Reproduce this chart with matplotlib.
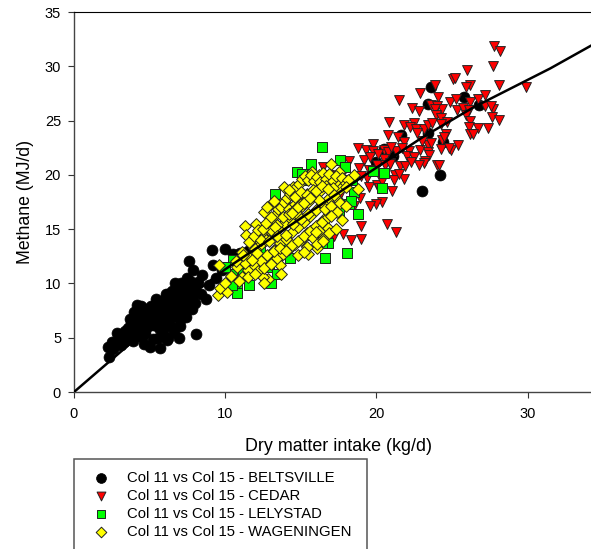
import matplotlib
matplotlib.use('Agg')
import matplotlib.pyplot as plt
from matplotlib.patches import Rectangle

plt.rcParams['font.family'] = ['Liberation Sans', 'DejaVu Sans']

belts_x = [2.3, 2.27, 2.5, 2.85, 4.2, 4.0, 5.4, 6.1, 6.7, 7.5, 7.9, 7.6, 8.5, 9.1, 9.2, 8.9, 8.7, 8.1, 7.0, 6.95,
           5.7, 5.0, 6.15, 4.5, 5.55, 2.6, 2.9, 3.0, 3.2, 3.3, 3.4, 3.5, 3.6, 3.7, 3.8, 3.9, 4.0, 4.1, 4.2, 4.3,
           4.4, 4.5, 4.6, 4.7, 4.8, 4.9, 5.0, 5.1, 5.2, 5.3, 5.4, 5.5, 5.6, 5.7, 5.8, 5.9, 6.0, 6.1, 6.2, 6.3,
           6.4, 6.5, 6.6, 6.7, 6.8, 6.9, 7.0, 7.1, 7.2, 7.3, 7.4, 7.5, 7.6, 7.7, 7.8, 3.1, 3.5, 3.9, 4.3, 4.7,
           5.1, 5.5, 5.9, 6.3, 6.7, 7.1, 7.5, 4.6, 5.2, 5.8, 6.4, 7.0, 7.6, 10.0, 10.5, 11.0, 11.5, 12.4, 13.0, 9.4,
           8.0, 8.2, 8.4, 8.0, 7.8, 7.4, 6.6, 6.2, 3.7, 4.4, 9.8, 10.7, 11.9,
           23.6, 23.4, 25.8, 26.8, 23.4, 21.6, 24.4, 20.5, 21.1, 20.0, 23.0, 24.2]
belts_y = [3.25, 4.1, 4.6, 5.4, 8.0, 7.4, 8.6, 9.0, 10.0, 10.5, 11.2, 12.1, 10.8, 13.1, 11.7, 9.9, 8.6, 5.3, 6.1, 5.0,
           4.05, 4.1, 4.8, 5.1, 5.0, 4.0, 4.4, 5.0, 5.3, 4.6, 5.6, 4.9, 5.9, 5.2, 6.3, 5.5, 6.8, 5.7, 6.5, 7.2,
           6.0, 7.0, 6.4, 7.6, 6.0, 7.1, 6.6, 7.9, 6.2, 7.4, 6.8, 8.2, 5.9, 7.0, 7.7, 6.4, 8.6, 7.2, 9.0, 6.7,
           8.0, 9.3, 7.4, 8.7, 9.8, 7.8, 9.0, 10.0, 7.3, 8.6, 9.6, 8.1, 9.2, 10.2, 8.7, 4.3, 5.3, 4.7, 5.8, 5.4,
           6.3, 7.2, 5.6, 7.7, 7.0, 8.3, 9.8, 4.4, 4.9, 6.9, 6.1, 6.6, 8.9, 13.2, 12.7, 12.8, 13.0, 14.0, 15.0, 10.5,
           9.4, 10.1, 9.0, 8.2, 7.6, 6.9, 5.5, 5.0, 6.7, 7.9, 11.2, 12.3, 13.6,
           28.1, 26.5, 27.2, 26.4, 23.9, 23.7, 23.0, 22.4, 21.7, 21.2, 18.5, 20.0]

cedar_x = [27.8, 28.2, 27.7, 26.0, 25.1, 25.2, 26.2, 25.9, 28.1, 29.9, 23.85, 22.9, 24.1, 21.5, 24.9, 25.3, 26.7, 27.2,
           22.35, 22.85, 23.6, 24.0, 24.35, 23.85, 25.35, 25.7, 26.2, 26.1, 27.2, 27.7, 27.6, 23.95, 25.9, 27.65, 28.1,
           20.85, 21.8, 22.5, 22.2, 22.65, 23.15, 23.4, 23.7, 24.3, 24.7, 24.25, 26.2, 26.1, 26.7, 27.4, 26.2, 26.4,
           20.75, 21.4, 21.8, 24.6, 24.35, 19.8, 18.8, 19.3, 19.8, 20.5, 20.8, 21.3, 22.15, 22.9, 23.4, 24.25, 24.95,
           25.4, 24.8, 23.4, 22.0, 22.5, 23.5, 19.2, 20.5, 20.9, 23.25, 23.15, 22.85, 24.0, 24.15, 18.85, 20.05, 21.55,
           21.9, 19.5, 21.25, 21.8, 21.15, 20.25, 19.4, 19.5, 20.05, 20.4, 21.05, 18.95, 20.4, 19.95, 19.6, 18.55,
           19.0, 20.7, 21.3, 17.8, 18.3, 19.0, 17.2, 16.5, 12.4, 17.5, 18.0, 17.9, 18.2, 16.9, 17.3,
           20.1, 20.6, 21.0, 21.7, 22.3, 23.0, 23.6, 24.5, 19.0, 19.6, 20.2, 20.9, 21.5, 22.7, 18.6]
cedar_y = [31.9, 31.4, 30.05, 29.7, 28.8, 28.9, 28.3, 28.1, 28.3, 28.1, 28.3, 27.5, 27.2, 26.9, 26.7, 27.0, 27.0, 27.4,
           26.2, 25.9, 26.4, 26.3, 26.1, 26.1, 26.0, 26.2, 26.7, 26.0, 26.3, 26.1, 26.3, 25.5, 25.5, 25.3, 25.05,
           24.9, 24.6, 24.8, 24.4, 24.2, 24.2, 24.6, 24.8, 25.2, 24.9, 24.7, 25.0, 24.4, 24.3, 24.3, 23.8, 23.8,
           23.7, 23.45, 23.05, 23.8, 23.2, 22.85, 22.5, 22.3, 22.2, 22.3, 22.1, 22.2, 22.2, 22.3, 22.75, 22.4, 22.3,
           22.75, 22.45, 22.1, 21.7, 21.6, 21.8, 21.35, 21.5, 21.05, 21.3, 21.05, 20.95, 20.95, 20.95, 20.6, 20.95, 20.8,
           20.8, 20.45, 20.0, 19.6, 19.5, 19.85, 19.7, 18.9, 19.05, 19.4, 18.55, 17.85, 17.5, 17.3, 17.1, 17.1,
           15.3, 15.45, 14.7, 14.55, 14.0, 14.05, 14.4, 20.7, 11.0, 18.0, 19.5, 20.5, 21.3, 20.0, 19.2,
           21.9, 20.9, 22.6, 22.5, 21.2, 23.1, 22.9, 23.5, 19.9, 21.6, 18.8, 21.0, 20.1, 23.9, 18.2]

lely_x = [16.4, 17.6, 15.7, 14.75, 15.1, 17.9, 13.3, 20.5, 20.4, 19.8, 18.8, 16.8, 18.05, 16.6, 18.5, 18.4, 17.2, 16.4,
          14.3, 12.8, 12.9, 10.55, 10.45, 10.8, 10.8, 11.6, 10.45, 13.0, 13.4, 12.3, 18.2, 15.2, 16.3, 18.3, 10.0, 11.2,
          12.0, 14.0, 15.8, 17.5]
lely_y = [22.6, 21.4, 21.0, 20.3, 20.1, 20.75, 18.2, 20.2, 18.75, 20.4, 16.4, 13.75, 12.8, 12.3, 18.45, 19.5, 19.7, 13.7,
          12.3, 12.0, 11.55, 12.2, 10.9, 9.75, 9.1, 9.9, 9.85, 10.05, 10.9, 13.0, 17.3, 19.5, 15.2, 17.6, 11.5, 11.0,
          11.6, 13.3, 14.5, 16.6]

wag_x = [9.5, 10.1, 9.65, 10.0, 9.6, 11.1, 10.8, 11.5, 11.1, 11.3, 11.4, 12.05, 13.0, 13.65, 14.5, 15.75, 16.2, 17.0,
         17.5, 18.5, 18.8, 17.7, 16.8, 16.1, 15.45, 14.8, 13.7, 13.6, 13.7, 12.85, 12.5, 12.6, 12.2,
         10.4, 10.9, 11.3, 11.7, 12.0, 12.3, 12.5, 12.7, 12.9, 13.1, 13.3, 13.5, 13.7, 13.9, 14.1, 14.3, 14.5,
         14.7, 14.9, 15.1, 15.3, 15.5, 15.7, 15.9, 16.1, 16.3, 16.5, 16.7, 16.9, 17.1, 17.3, 17.5, 17.7, 17.9, 18.1,
         12.0, 12.4, 12.8, 13.2, 13.6, 14.0, 14.4, 14.8, 15.2, 15.6, 16.0, 16.4, 16.8, 17.2, 17.6, 18.0,
         11.9, 12.3, 12.7, 13.1, 13.5, 13.9, 14.3, 14.7, 15.1, 15.5, 15.9, 16.3, 16.7, 17.1, 17.5,
         12.2, 12.6, 13.0, 13.4, 13.8, 14.2, 14.6, 15.0, 15.4, 15.8, 16.2, 16.6, 17.0,
         13.2, 13.6, 14.0, 14.4, 14.8, 15.2, 15.6, 16.0, 16.4, 16.8, 14.2, 14.6, 15.0, 15.4, 15.8, 16.2, 16.6,
         13.0, 13.4, 13.8, 14.2, 14.6, 15.0, 15.4, 15.8, 16.2, 16.6, 17.0, 17.4,
         11.6, 11.9, 12.2, 12.5, 12.0, 12.4, 11.8, 12.1, 12.7, 13.0, 12.6, 13.3, 12.9, 13.4, 13.2, 12.8, 10.7, 11.2,
         11.5, 12.0, 13.9, 14.2, 14.6, 15.0, 15.4, 14.4, 14.8, 15.2, 15.6, 16.0, 15.4, 16.1, 16.5, 16.9, 17.3, 17.0,
         16.4, 16.8, 17.2, 17.6, 18.0, 14.0, 14.5, 15.0, 15.5, 15.2, 16.0, 16.5]
wag_y = [8.9, 9.25, 9.55, 10.0, 11.7, 10.6, 11.5, 11.2, 12.9, 15.3, 14.45, 15.5, 17.3, 17.35, 18.9, 20.3, 20.0, 21.0,
         20.3, 20.0, 18.7, 15.85, 15.1, 13.3, 12.7, 12.6, 12.6, 11.7, 10.85, 10.45, 10.6, 10.0, 11.5,
         10.7, 10.2, 11.9, 12.4, 12.9, 13.8, 14.3, 14.9, 15.4, 15.8, 16.3, 16.9, 17.0, 17.5, 17.9, 18.2, 18.5,
         18.9, 19.2, 19.6, 19.9, 19.5, 20.0, 19.4, 19.8, 19.3, 20.2, 19.6, 20.1, 19.4, 19.9, 19.1, 19.7, 19.2, 19.5,
         11.6, 12.1, 12.6, 13.1, 13.7, 14.1, 14.7, 15.2, 15.7, 16.2, 16.8, 17.3, 17.8, 18.3, 18.7, 18.9,
         13.3, 13.5, 14.0, 14.6, 15.0, 15.6, 16.0, 16.5, 17.1, 17.5, 18.1, 18.5, 19.0, 18.8, 17.6,
         11.1, 11.4, 11.8, 12.3, 12.7, 13.2, 13.6, 14.0, 14.6, 15.0, 15.5, 16.0, 16.5,
         13.0, 13.3, 13.0, 13.5, 13.9, 14.4, 14.8, 15.3, 15.7, 16.1, 16.9, 17.3, 17.8, 18.2, 18.6, 17.7, 17.1,
         14.9, 15.4, 16.1, 16.4, 16.9, 17.3, 17.8, 14.2, 14.8, 16.9, 17.1, 16.6,
         13.8, 14.4, 14.9, 15.0, 13.2, 14.0, 12.2, 12.8, 15.6, 16.1, 16.6, 15.2, 13.9, 14.4, 17.6, 17.0, 12.1, 12.6,
         10.6, 10.9, 18.9, 18.6, 18.0, 18.4, 18.1, 16.5, 17.0, 17.4, 17.9, 18.5, 13.4, 13.6, 14.1, 14.6, 15.0, 16.2,
         19.0, 18.7, 18.1, 17.4, 17.1, 14.5, 15.5, 15.9, 16.4, 12.9, 14.7, 13.9]

fit_x = [0, 2.5, 5, 10, 15, 18.3, 23.1, 26.4, 31.5, 34.2]
fit_y = [0, 3.0, 6.0, 11.3, 16.0, 19.1, 23.5, 26.2, 29.8, 31.9]

series_labels = ['Col 11 vs Col 15 - BELTSVILLE', 'Col 11 vs Col 15 - CEDAR',
                 'Col 11 vs Col 15 - LELYSTAD', 'Col 11 vs Col 15 - WAGENINGEN']

fig = plt.figure(figsize=(5.91, 5.49), dpi=100)
ax = fig.add_axes([74 / 591, 1 - 392 / 549, 1 - 74 / 591, 380 / 549])

a = ax.scatter(belts_x, belts_y, s=62, c='black', marker='o', linewidths=0.5, edgecolors='black', zorder=2)
b = ax.scatter(cedar_x, cedar_y, s=50, c='#ff0000', marker='v', linewidths=0.7, edgecolors='#222222', zorder=3)
c = ax.scatter(lely_x, lely_y, s=42, c='#00ff00', marker='s', linewidths=0.7, edgecolors='#222222', zorder=4)
d = ax.scatter(wag_x, wag_y, s=36, c='#ffff00', marker='D', linewidths=0.7, edgecolors='#222222', zorder=5)
ax.plot(fit_x, fit_y, color='black', lw=1.8, zorder=6)

ax.set_xlim(0, 34.2)
ax.set_ylim(0, 35)
ax.set_xticks([0, 10, 20, 30])
ax.set_yticks(range(0, 40, 5))
ax.tick_params(labelsize=10.5, length=4.3, width=0.8, color='#333333')
ax.tick_params(axis='x', pad=6.5)
ax.tick_params(axis='y', pad=5)
ax.spines['right'].set_visible(False)
for s in ['left', 'bottom']:
    ax.spines[s].set_color('#444444')
    ax.spines[s].set_linewidth(1.0)
ax.spines['top'].set_color('black')
ax.set_xlabel('Dry matter intake (kg/d)', fontsize=12.9, labelpad=12, x=0.511)
ax.set_ylabel('Methane (MJ/d)', fontsize=12.7, labelpad=8)

# legend box runs off the bottom of the picture
fig.add_artist(Rectangle((74 / 591, -0.02), 293 / 591, 1 - 459 / 549 + 0.02, transform=fig.transFigure,
                         facecolor='white', edgecolor='#555555', lw=1.1))
fig.legend([a, b, c, d], series_labels, loc='upper left', bbox_to_anchor=(86 / 591, 1 - 471 / 549), frameon=False,
           fontsize=10.7, labelspacing=0.27, borderpad=0, borderaxespad=0, handletextpad=0.76, markerscale=0.9)

fig.savefig('out.png', dpi=100)
